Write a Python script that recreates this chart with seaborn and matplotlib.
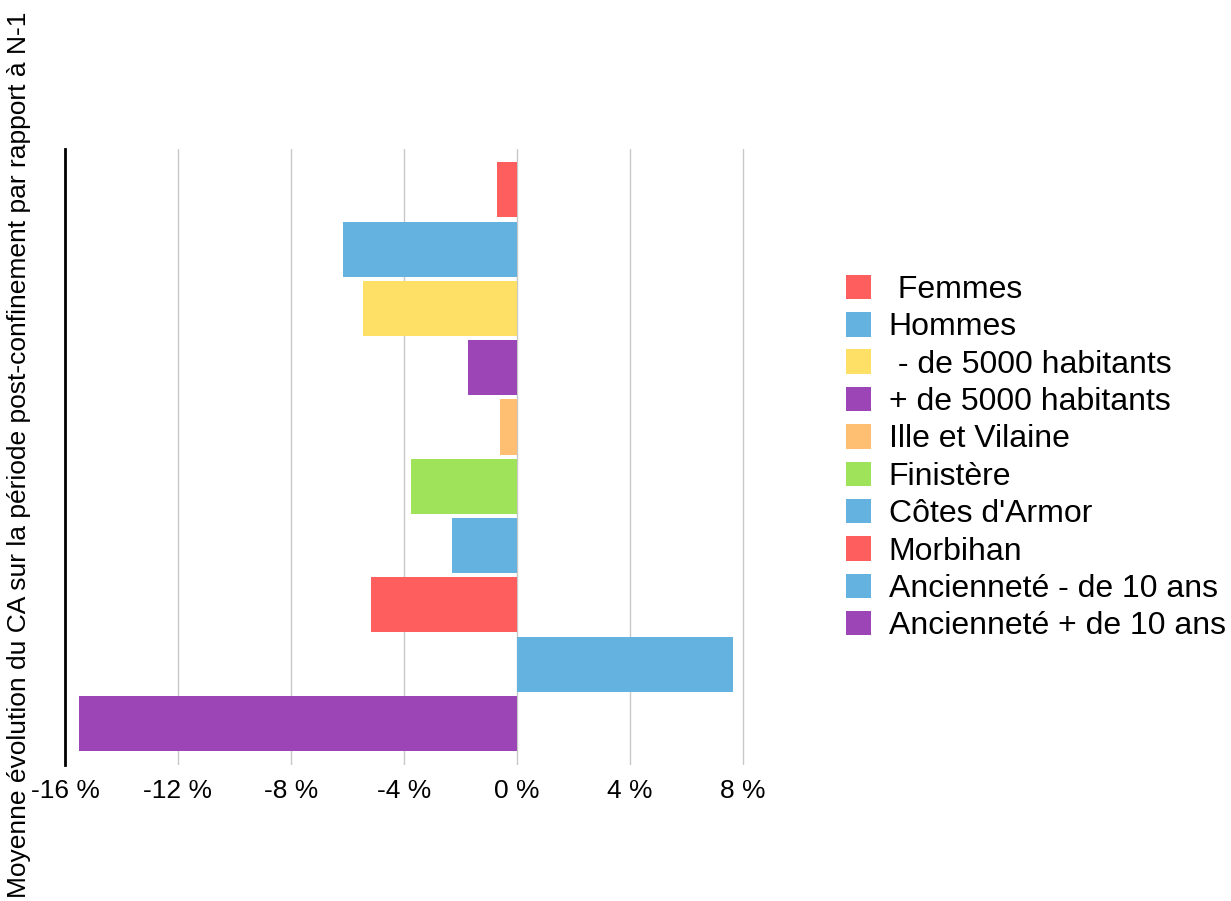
import matplotlib
matplotlib.use("Agg")
import matplotlib.pyplot as plt
import seaborn as sns
import pandas as pd

categories = [" Femmes", "Hommes", " - de 5000 habitants", "+ de 5000 habitants",
              "Ille et Vilaine", "Finistère", "Côtes d'Armor", "Morbihan",
              "Ancienneté - de 10 ans", "Ancienneté + de 10 ans"]
values = [-0.71, -6.15, -5.44, -1.74, -0.6, -3.74, -2.31, -5.16, 7.65, -15.5]
colors = ["#FF5E5E", "#63B2E0", "#FFE066", "#9B45B6", "#FFBF73",
          "#9FE35A", "#63B2E0", "#FF5E5E", "#63B2E0", "#9B45B6"]
xticks = [-16, -12, -8, -4, 0, 4, 8]
xticklabels = ["-16 %", "-12 %", "-8 %", "-4 %", "0 %", "4 %", "8 %"]
ylabel = "Moyenne évolution du CA sur la période post-confinement par rapport à N-1"

sns.set_theme(style="white")
plt.rcParams['font.family'] = ['Liberation Sans', 'DejaVu Sans']
plt.rcParams['text.color'] = 'black'
plt.rcParams['xtick.color'] = 'black'

df = pd.DataFrame({"cat": categories, "val": values})

fig = plt.figure(figsize=(12.31, 9.01), dpi=100)
ax = fig.add_axes([65/1231, 1-765/901, (747-65)/1231, (765-149)/901])

sns.barplot(data=df, x="val", y="cat", hue="cat", palette=colors,
            order=categories, hue_order=categories, dodge=False,
            width=0.93, saturation=1, linewidth=0, legend=True, ax=ax)

ax.set_xlim(-16, 8.15)
ax.set_ylim(9.7, -0.69)
ax.set_xticks(xticks)
ax.set_xticklabels(xticklabels, fontsize=19)
ax.set_yticks([])
ax.set_xlabel("")
ax.set_ylabel("")
ax.tick_params(axis="x", length=0, pad=10)
ax.grid(axis="x", color="#C8C8C8", linewidth=1)
ax.set_axisbelow(True)
for s in ["top", "right", "bottom"]:
    ax.spines[s].set_visible(False)
ax.spines["left"].set_color("black")
ax.spines["left"].set_linewidth(2)

handles, labels = ax.get_legend_handles_labels()
ax.legend(handles, labels, loc="center left", bbox_to_anchor=(846/1231, 1-458/901),
          bbox_transform=fig.transFigure, frameon=False, fontsize=23,
          handlelength=0.78, handleheight=0.8, labelspacing=0.22, handletextpad=0.56,
          borderaxespad=0, borderpad=0)

fig.text(19/1231, 0.495, ylabel, rotation=90, va="center", ha="center", fontsize=19)

fig.savefig("out.png", dpi=100)
